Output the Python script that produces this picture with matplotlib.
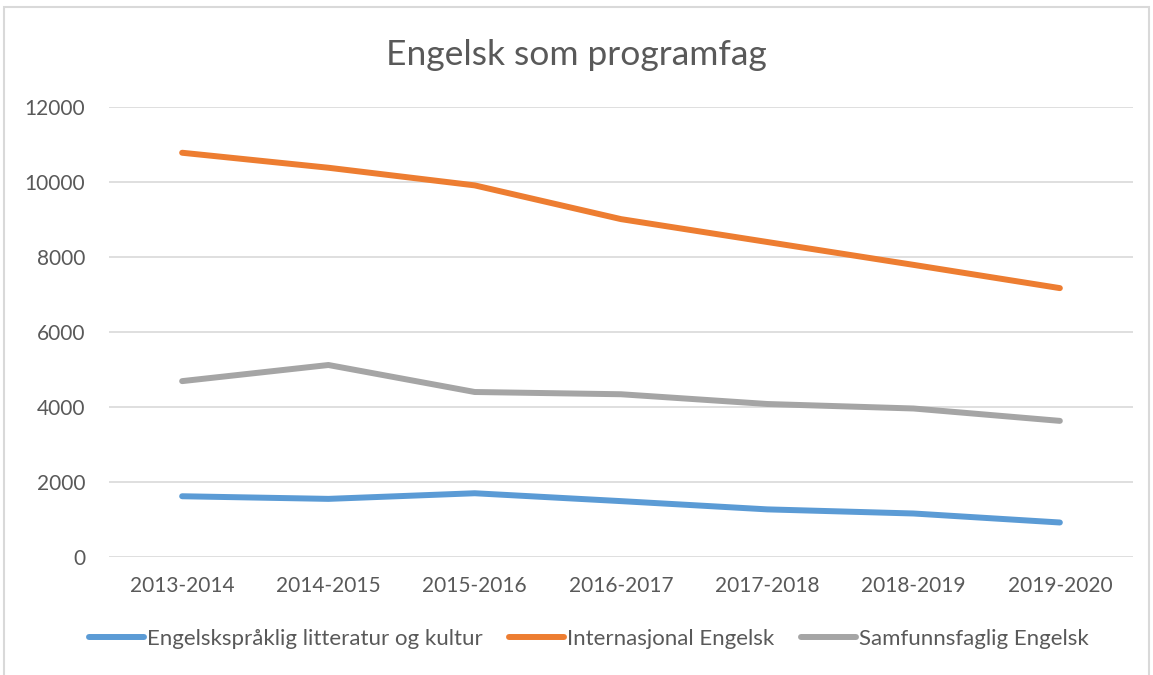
import matplotlib
matplotlib.use("Agg")
import matplotlib.pyplot as plt
from matplotlib.patches import Rectangle

years = ["2013-2014", "2014-2015", "2015-2016", "2016-2017", "2017-2018", "2018-2019", "2019-2020"]
litteratur = [1620, 1550, 1700, 1490, 1270, 1160, 920]
internasjonal = [10780, 10380, 9910, 9010, 8400, 7790, 7170]
samfunnsfaglig = [4690, 5120, 4400, 4340, 4080, 3960, 3630]
series_names = ["Engelskspråklig litteratur og kultur", "Internasjonal Engelsk", "Samfunnsfaglig Engelsk"]
colors = ["#5b9bd5", "#ed7d31", "#a5a5a5"]
yticks = [0, 2000, 4000, 6000, 8000, 10000, 12000]

plt.rcParams['font.family'] = ['Lato', 'DejaVu Sans']
W, H = 1153, 675
fig = plt.figure(figsize=(W/100, H/100), dpi=100)
fig.patches.append(Rectangle((4/W, -0.1), (1149-4)/W, 1.1 - 7/H, transform=fig.transFigure,
                             fill=False, edgecolor="#d9d9d9", linewidth=1.5))

ax = fig.add_axes([109/W, 1-557/H, (1133-109)/W, (557-107)/H])
x = list(range(len(years)))
for vals, name, c in zip([litteratur, internasjonal, samfunnsfaglig], series_names, colors):
    ax.plot(x, vals, color=c, linewidth=4.3, solid_capstyle='round', solid_joinstyle='round', label=name)

ax.set_xlim(-0.5, len(years)-0.5)
ax.set_ylim(0, 12000)
ax.set_yticks(yticks)
ax.set_yticklabels([str(v) for v in yticks])
ax.set_xticks(x)
ax.set_xticklabels(years)
ax.grid(axis='y', color="#d9d9d9", linewidth=1.2)
ax.set_axisbelow(True)
for s in ax.spines.values():
    s.set_visible(False)
ax.tick_params(length=0, labelsize=15, colors="#595959")
ax.tick_params(axis='y', pad=17)
ax.tick_params(axis='x', pad=14)

fig.text(0.5, 1-55/H, "Engelsk som programfag", ha='center', va='center', fontsize=25.5, color="#595959")
fig.legend(loc='center', bbox_to_anchor=(589/W, 1-639/H), ncol=3, frameon=False, fontsize=16,
           handlelength=2.45, handletextpad=0.15, columnspacing=1.2, labelcolor="#595959")

fig.savefig("out.png", dpi=100)
